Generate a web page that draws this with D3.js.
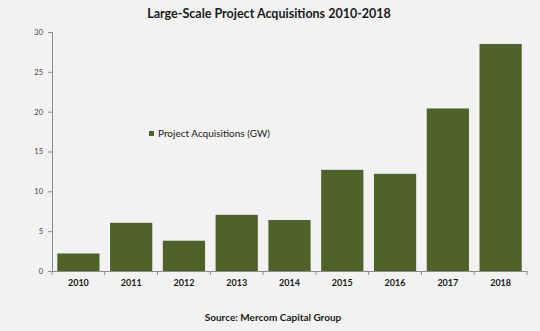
<!DOCTYPE html>
<html>
<head>
<meta charset="utf-8">
<script src="https://cdn.jsdelivr.net/npm/d3@7"></script>
<style>
  body { margin: 0; background: #f2f2f2; }
  svg { display: block; font-family: Lato, "Open Sans", sans-serif; }
</style>
</head>
<body>
<div id="chart"></div>
<script>
var years = ["2010", "2011", "2012", "2013", "2014", "2015", "2016", "2017", "2018"];
var acquisitions = [2.2, 6.05, 3.8, 7.05, 6.4, 12.7, 12.2, 20.4, 28.5];
var yTicks = [0, 5, 10, 15, 20, 25, 30];

var w = 540, h = 331;
var margin = { top: 32, right: 13, bottom: 60, left: 52 };
var iw = w - margin.left - margin.right;
var ih = h - margin.top - margin.bottom;

var svg = d3.select("#chart").append("svg")
    .attr("width", w)
    .attr("height", h);

svg.append("rect")
    .attr("width", w).attr("height", h)
    .style("fill", "#f2f2f2");

svg.append("text")
    .attr("x", 269).attr("y", 18)
    .attr("text-anchor", "middle")
    .style("font-size", "12.5px")
    .style("font-weight", "bold")
    .style("fill", "#1a1a1a")
    .text("Large-Scale Project Acquisitions 2010-2018");

var g = svg.append("g")
    .attr("transform", "translate(" + margin.left + "," + margin.top + ")");

var xScale = d3.scaleBand()
    .domain(years)
    .range([0, iw])
    .paddingInner(0.2)
    .paddingOuter(0.1);

var yScale = d3.scaleLinear()
    .domain([0, 30])
    .range([ih, 0]);

g.selectAll(".bar")
    .data(acquisitions)
    .enter().append("rect")
    .attr("class", "bar")
    .attr("x", function(d, i) { return xScale(years[i]); })
    .attr("y", function(d) { return yScale(d); })
    .attr("width", xScale.bandwidth())
    .attr("height", function(d) { return ih - yScale(d); })
    .style("fill", "#4f6228");

// Y axis
var yAxis = g.append("g")
    .call(d3.axisLeft(yScale).tickValues(yTicks).tickSize(4).tickPadding(5));
yAxis.select(".domain").style("stroke", "#8c8c8c");
yAxis.selectAll(".tick line").style("stroke", "#8c8c8c");
yAxis.selectAll("text")
    .style("font-size", "7.5px")
    .style("fill", "#404040")
    .style("font-family", "Lato, sans-serif");

// X axis with ticks at band boundaries
var xAxis = g.append("g")
    .attr("transform", "translate(0," + ih + ")")
    .call(d3.axisBottom(xScale).tickSize(0).tickPadding(9));
xAxis.select(".domain").style("stroke", "#8c8c8c");
xAxis.selectAll("text")
    .style("font-size", "9px")
    .style("font-weight", "bold")
    .style("fill", "#1a1a1a")
    .style("font-family", "Lato, sans-serif");

var step = xScale.step();
g.selectAll(".xtick")
    .data(d3.range(years.length + 1))
    .enter().append("line")
    .attr("class", "xtick")
    .attr("x1", function(i) { return i * step; })
    .attr("x2", function(i) { return i * step; })
    .attr("y1", ih)
    .attr("y2", ih + 4)
    .style("stroke", "#8c8c8c");

// Legend
svg.append("rect")
    .attr("x", 149).attr("y", 131)
    .attr("width", 5).attr("height", 5)
    .style("fill", "#4f6228");
svg.append("text")
    .attr("x", 158).attr("y", 137)
    .style("font-size", "10px")
    .style("fill", "#1a1a1a")
    .text("Project Acquisitions (GW)");

// Source
svg.append("text")
    .attr("x", 273).attr("y", 321)
    .attr("text-anchor", "middle")
    .style("font-size", "10px")
    .style("font-weight", "bold")
    .style("fill", "#1a1a1a")
    .text("Source: Mercom Capital Group");
</script>
</body>
</html>
